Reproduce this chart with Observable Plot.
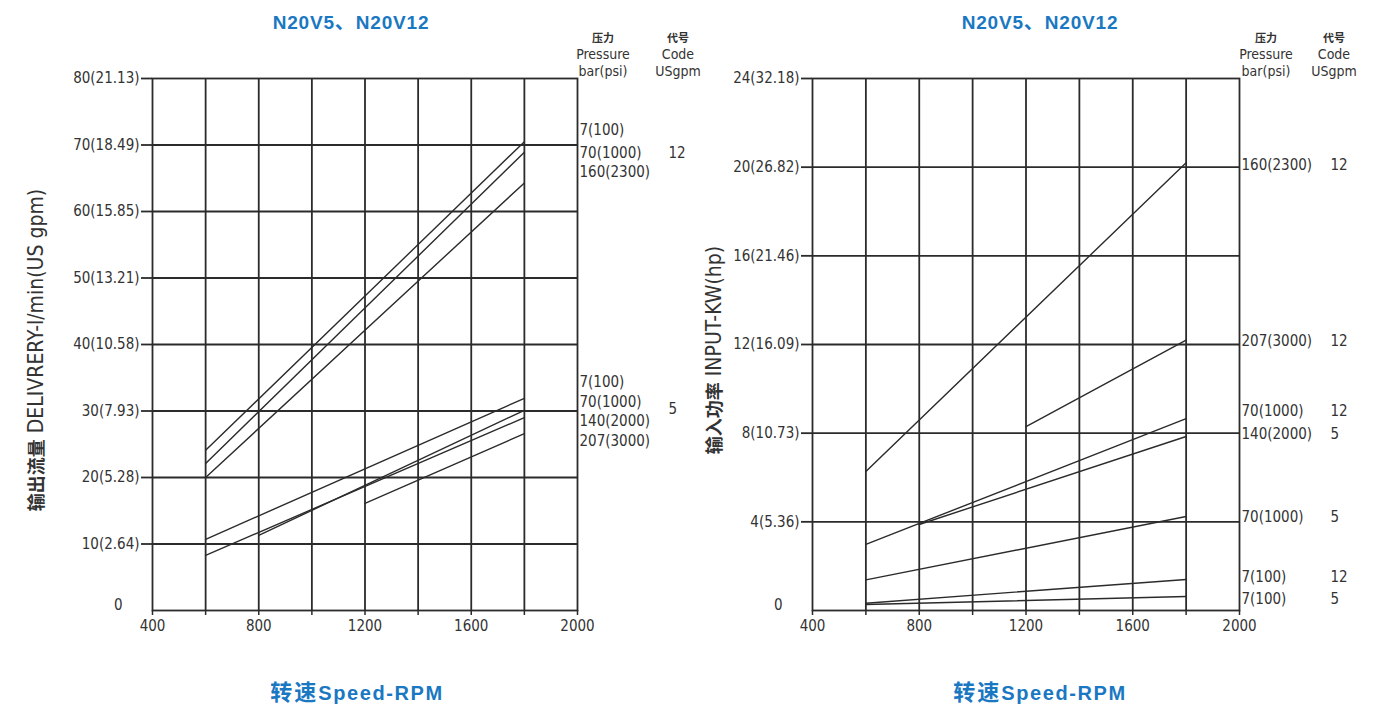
<!DOCTYPE html>
<html><head><meta charset="utf-8">
<script src="https://cdn.jsdelivr.net/npm/d3@7"></script>
<script src="https://cdn.jsdelivr.net/npm/@observablehq/plot@0.6"></script>
<style>
body{margin:0;background:#fff;}
#wrap{position:relative;width:1385px;height:706px;overflow:hidden;font-family:"Liberation Sans Narrow","DejaVu Sans Condensed",sans-serif;color:#333;}
.abs{position:absolute;white-space:nowrap;}
.title{font-family:"Liberation Sans","Noto Sans CJK SC",sans-serif;font-weight:bold;font-size:19px;letter-spacing:0.8px;color:#1a78c2;transform:translateX(-50%);}
.title .cjk{font-family:"Noto Sans CJK SC",sans-serif;font-size:20px;letter-spacing:1px;}
.xt{font-size:20px;letter-spacing:1.6px;}
.xt .cjk{font-size:22px;letter-spacing:2px;}
.ytitle{font-size:21px;color:#333;transform:translate(-50%,-50%) rotate(-90deg);}
.ytitle .cjk{font-family:"Noto Sans CJK SC",sans-serif;font-weight:bold;font-size:18px;}
.hdr{font-size:14px;line-height:17px;text-align:center;transform:translateX(-50%);color:#333;}
.hdr b{font-family:"Noto Sans CJK SC",sans-serif;font-size:11px;}
</style></head>
<body><div id="wrap">
<div class="abs title" style="left:351px;top:6px">N20V5<span class="cjk">、</span>N20V12</div>
<div class="abs title" style="left:1040px;top:6px">N20V5<span class="cjk">、</span>N20V12</div>
<div class="abs title xt" style="left:357px;top:674px"><span class="cjk">转速</span>Speed-RPM</div>
<div class="abs title xt" style="left:1040px;top:674px"><span class="cjk">转速</span>Speed-RPM</div>
<div class="abs ytitle" style="left:35px;top:350px"><span class="cjk">输出流量</span> DELIVRERY-l/min(US gpm)</div>
<div class="abs ytitle" style="left:713px;top:350px"><span class="cjk">输入功率</span> INPUT-KW(hp)</div>
<div class="abs hdr" style="left:603px;top:29px"><b>压力</b><br>Pressure<br>bar(psi)</div>
<div class="abs hdr" style="left:678px;top:29px"><b>代号</b><br>Code<br>USgpm</div>
<div class="abs hdr" style="left:1266px;top:29px"><b>压力</b><br>Pressure<br>bar(psi)</div>
<div class="abs hdr" style="left:1334px;top:29px"><b>代号</b><br>Code<br>USgpm</div>
<div id="left" class="abs" style="left:0;top:30px"></div>
<div id="right" class="abs" style="left:700px;top:30px"></div>
</div>
<script>
// ---------- shared axis data ----------
const rpmTicks = [400, 600, 800, 1000, 1200, 1400, 1600, 1800, 2000];
const rpmLabelled = [400, 800, 1200, 1600, 2000];
const rpmGrid = [600, 800, 1000, 1200, 1400, 1600, 1800];

// ---------- left chart: delivery ----------
const flowTicks = [10, 20, 30, 40, 50, 60, 70, 80];
const flowTickLabels = ["10(2.64)", "20(5.28)", "30(7.93)", "40(10.58)", "50(13.21)", "60(15.85)", "70(18.49)", "80(21.13)"];
const flowGrid = [10, 20, 30, 40, 50, 60, 70];

const flowLineNames = ["V12 7(100)", "V12 70(1000)", "V12 160(2300)", "V5 7(100)", "V5 70(1000)", "V5 140(2000)", "V5 207(3000)"];
const flowStartRpm = [600, 600, 600, 600, 800, 600, 1200];
const flowStartVal = [24.1, 22.1, 20.0, 10.7, 11.3, 8.3, 16.1];
const flowEndRpm   = [1800, 1800, 1800, 1800, 1800, 1800, 1800];
const flowEndVal   = [70.5, 68.9, 64.3, 31.9, 30.1, 29.0, 26.6];

const flowPressLabels = ["7(100)", "70(1000)", "160(2300)", "7(100)", "70(1000)", "140(2000)", "207(3000)"];
const flowPressAt     = [72.2, 68.7, 65.9, 34.4, 31.4, 28.4, 25.4];
const flowCodeLabels  = ["12", "5"];
const flowCodeAt      = [68.7, 30.2];

// ---------- right chart: input power ----------
const powTicks = [4, 8, 12, 16, 20, 24];
const powTickLabels = ["4(5.36)", "8(10.73)", "12(16.09)", "16(21.46)", "20(26.82)", "24(32.18)"];
const powGrid = [4, 8, 12, 16, 20];

const powLineNames = ["V12 160(2300)", "V12 207(3000)", "V12 70(1000)", "V5 140(2000)", "V5 70(1000)", "V12 7(100)", "V5 7(100)"];
const powStartRpm = [600, 1200, 600, 800, 600, 600, 600];
const powStartVal = [6.27, 8.3, 2.98, 3.88, 1.38, 0.33, 0.27];
const powEndRpm   = [1800, 1800, 1800, 1800, 1800, 1800, 1800];
const powEndVal   = [20.2, 12.2, 8.66, 7.85, 4.24, 1.40, 0.63];

const powPressLabels = ["160(2300)", "207(3000)", "70(1000)", "140(2000)", "70(1000)", "7(100)", "7(100)"];
const powPressAt     = [20.07, 12.13, 8.98, 7.94, 4.19, 1.49, 0.50];
const powCodeLabels  = ["12", "12", "12", "5", "5", "12", "5"];
const powCodeAt      = [20.07, 12.13, 8.98, 7.94, 4.19, 1.49, 0.50];

const INK = "#2b2b2b";
const FONT = "'Liberation Sans Narrow','DejaVu Sans Condensed',sans-serif";

function lineTable(names, r0, v0, r1, v1) {
  const out = [];
  names.forEach((n, i) => {
    out.push({id: n, rpm: r0[i], v: v0[i]});
    out.push({id: n, rpm: r1[i], v: v1[i]});
  });
  return out;
}

function chart(o) {
  const tickMap = new Map(o.ticks.map((t, i) => [t, o.tickLabels[i]]));
  return Plot.plot({
    width: o.width, height: 620,
    marginLeft: o.ml, marginRight: o.mr, marginTop: 48, marginBottom: 40,
    x: {domain: [400, 2000]},
    y: {domain: [0, o.ymax]},
    style: {fontFamily: FONT, fontSize: "15px", color: "#333", background: "transparent", overflow: "visible"},
    marks: [
      Plot.ruleX(rpmGrid, {y1: 0, y2: o.ymax, stroke: INK, strokeWidth: 1.8}),
      Plot.ruleY(o.grid, {x1: 400, x2: 2000, stroke: INK, strokeWidth: 1.8}),
      Plot.frame({stroke: INK, strokeWidth: 1.8}),
      Plot.axisX({ticks: rpmTicks, tickSize: 5, tickPadding: 5, stroke: INK, strokeWidth: 1.5,
                  tickFormat: d => rpmLabelled.includes(d) ? String(d) : "", label: null}),
      Plot.axisY({ticks: o.ticks, tickSize: 11, tickPadding: 2, stroke: INK, strokeWidth: 1.8,
                  tickFormat: d => tickMap.get(d), label: null}),
      Plot.axisY({ticks: [0], tickSize: 0, tickPadding: 30, dy: -5, tickFormat: () => "0", label: null}),
      Plot.line(o.lines, {x: "rpm", y: "v", z: "id", stroke: INK, strokeWidth: 1.4}),
      Plot.text(o.press, {x: () => 2000, y: d => d.at, text: d => d.label, textAnchor: "start", dx: 2, fill: "#333"}),
      Plot.text(o.codes, {x: () => 2000, y: d => d.at, text: d => d.label, textAnchor: "start", dx: o.codeDx, fill: "#333"})
    ]
  });
}

document.getElementById("left").append(chart({
  width: 700, ml: 152, mr: 123, ymax: 80,
  ticks: flowTicks, tickLabels: flowTickLabels, grid: flowGrid,
  lines: lineTable(flowLineNames, flowStartRpm, flowStartVal, flowEndRpm, flowEndVal),
  press: flowPressLabels.map((l, i) => ({label: l, at: flowPressAt[i]})),
  codes: flowCodeLabels.map((l, i) => ({label: l, at: flowCodeAt[i]})),
  codeDx: 91
}));

document.getElementById("right").append(chart({
  width: 685, ml: 112, mr: 146, ymax: 24,
  ticks: powTicks, tickLabels: powTickLabels, grid: powGrid,
  lines: lineTable(powLineNames, powStartRpm, powStartVal, powEndRpm, powEndVal),
  press: powPressLabels.map((l, i) => ({label: l, at: powPressAt[i]})),
  codes: powCodeLabels.map((l, i) => ({label: l, at: powCodeAt[i]})),
  codeDx: 91
}));
</script>
</body></html>
